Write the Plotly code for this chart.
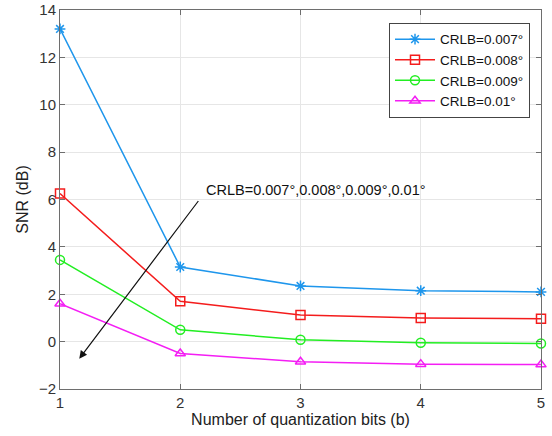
import plotly.graph_objects as go

bits = [1, 2, 3, 4, 5]
snr_007 = [13.2, 3.15, 2.35, 2.15, 2.1]
snr_008 = [6.25, 1.7, 1.12, 1.0, 0.97]
snr_009 = [3.45, 0.5, 0.08, -0.05, -0.08]
snr_010 = [1.6, -0.5, -0.85, -0.95, -0.97]
names = ["CRLB=0.007°", "CRLB=0.008°", "CRLB=0.009°", "CRLB=0.01°"]
colors = ["#1E96EC", "#F41C1C", "#22EE22", "#F41EF4"]
symbols = ["asterisk-open", "square-open", "circle-open", "triangle-up-open"]
series = [snr_007, snr_008, snr_009, snr_010]

fig = go.Figure()
for ys, n, c, s in zip(series, names, colors, symbols):
    fig.add_trace(go.Scatter(
        x=bits, y=ys, name=n, mode="lines+markers",
        line=dict(color=c, width=1.5),
        marker=dict(symbol=s, size=9, color=c, line=dict(color=c, width=1.5)),
        cliponaxis=False,
    ))

ann_text = "CRLB=0.007°,0.008°,0.009°,0.01°"
fig.add_annotation(x=1.16, y=-0.72, ax=2.16, ay=6.0, xref="x", yref="y",
                   axref="x", ayref="y", text="", showarrow=True,
                   arrowhead=2, arrowsize=1.3, arrowwidth=1.2, arrowcolor="#111111")
fig.add_annotation(x=2.2, y=6.4, xref="x", yref="y", text=ann_text,
                   showarrow=False, xanchor="left", yanchor="middle",
                   font=dict(size=14.5, color="#111111"))

axis_common = dict(showline=True, linecolor="#6E6E6E", linewidth=1, mirror="ticks",
                   ticks="inside", ticklen=5, tickcolor="#6E6E6E",
                   showgrid=True, gridcolor="#E6E6E6", gridwidth=1, zeroline=False,
                   automargin=False,
                   tickfont=dict(size=15, color="#333333"))
fig.update_xaxes(range=[1, 5], tickvals=[1, 2, 3, 4, 5],
                 title=dict(text="Number of quantization bits (b)", font=dict(size=16, color="#222222"), standoff=2),
                 **axis_common)
fig.update_yaxes(range=[-2, 14], tickvals=list(range(-2, 15, 2)),
                 title=dict(text="SNR (dB)", font=dict(size=16, color="#222222"), standoff=6),
                 **axis_common)

fig.update_layout(
    width=552, height=436,
    margin=dict(l=60, r=11, t=10, b=47),
    paper_bgcolor="white", plot_bgcolor="white",
    font=dict(family="Liberation Sans, Arial, sans-serif"),
    legend=dict(x=0.684, y=0.966, xanchor="left", yanchor="top",
                bgcolor="white", bordercolor="#444444", borderwidth=1,
                font=dict(size=13.5, color="#111111"), tracegroupgap=0,
                itemwidth=40),
    showlegend=True,
)
fig.write_html("out.html", config={"displayModeBar": False},
               post_script="document.body.style.margin='0';")
